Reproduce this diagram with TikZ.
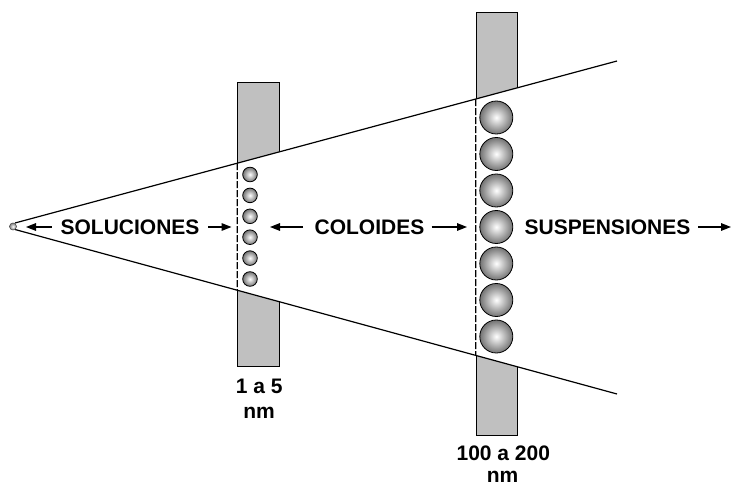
\documentclass[tikz,border=0pt]{standalone}
\usepackage{fontspec}
\setmainfont{Liberation Sans}
\usetikzlibrary{arrows.meta}
\definecolor{barGray}{HTML}{C0C0C0}
\begin{document}
\begin{tikzpicture}[x=1pt,y=-1pt,
  lbl/.style={font=\bfseries\fontsize{21}{24}\selectfont, inner sep=0pt, anchor=base},
  arr/.style={line width=1.4pt, -{Triangle[length=10pt,width=7.5pt]}},
  barbox/.style={fill=barGray, draw=black, line width=0.8pt, inner sep=0pt, anchor=north west},
  sph/.style={draw=black, line width=0.8pt, inner color=white, outer color=gray!90!black},
  wedgeline/.style={line width=1.2pt},
  dashline/.style={line width=1.2pt, dash pattern=on 7pt off 2pt}]
\useasboundingbox (0,0) rectangle (732,486);
% wedge end points
\coordinate (U0) at (15,223);
\coordinate (U1) at (617,61);
\coordinate (L0) at (15,229.5);
\coordinate (L1) at (617,394);
% bars
\node[barbox, minimum width=41.4pt, minimum height=283.7pt] (bar1) at (237.3,82.3) {};
\node[barbox, minimum width=41pt, minimum height=422.5pt] (bar2) at (475.7,12.5) {};
% white inside the wedge
\begin{scope}
  \clip (U0) -- (U1) -- (L1) -- (L0) -- cycle;
  \fill[white] (236,0) rectangle (280.5,486);
  \fill[white] (474.5,0) rectangle (518.5,486);
\end{scope}
% wedge lines
\draw[wedgeline] (U0) -- (U1);
\draw[wedgeline] (L0) -- (L1);
% dashed edges
\coordinate (d1t) at (intersection of U0--U1 and bar1.north west--bar1.south west);
\coordinate (d1b) at (intersection of L0--L1 and bar1.north west--bar1.south west);
\coordinate (d2t) at (intersection of U0--U1 and bar2.north west--bar2.south west);
\coordinate (d2b) at (intersection of L0--L1 and bar2.north west--bar2.south west);
\draw[dashline] (d1t) -- (d1b);
\draw[dashline] (d2t) -- (d2b);
% origin point
\shadedraw[inner color=white, outer color=gray, draw=black!70, line width=0.6pt] (13,226.5) circle (3.5);
% spheres
\foreach \k in {0,...,5} {
  \shadedraw[sph] (250,174.5+20.9*\k) circle (7.3);
}
\foreach \k in {0,...,6} {
  \shadedraw[sph] (496.3,117.5+36.5*\k) circle (16.5);
}
% labels
\node[lbl] (sol) at (130,234.5) {SOLUCIONES};
\node[lbl] (col) at (369.5,234.5) {COLOIDES};
\node[lbl] (sus) at (607.5,234.5) {SUSPENSIONES};
\node[lbl] (r1a) at (259.3,393.3) {1 a 5};
\node[lbl] (r1b) at (259,418.3) {nm};
\node[lbl] (r2a) at (503.3,460.5) {100 a 200};
\node[lbl] (r2b) at (502.5,482.5) {nm};
% arrows
\coordinate (a1s) at (51.7,227);
\coordinate (a1e) at (26,227);
\coordinate (a2s) at (208,227);
\coordinate (a2e) at (231.5,227);
\coordinate (a3s) at (303,227);
\coordinate (a3e) at (270,227);
\coordinate (a4s) at (431.7,227);
\coordinate (a4e) at (467,227);
\coordinate (a5s) at (698,227);
\coordinate (a5e) at (731,227);
\draw[arr] (a1s) -- (a1e);
\draw[arr] (a2s) -- (a2e);
\draw[arr] (a3s) -- (a3e);
\draw[arr] (a4s) -- (a4e);
\draw[arr] (a5s) -- (a5e);
\end{tikzpicture}
\end{document}
